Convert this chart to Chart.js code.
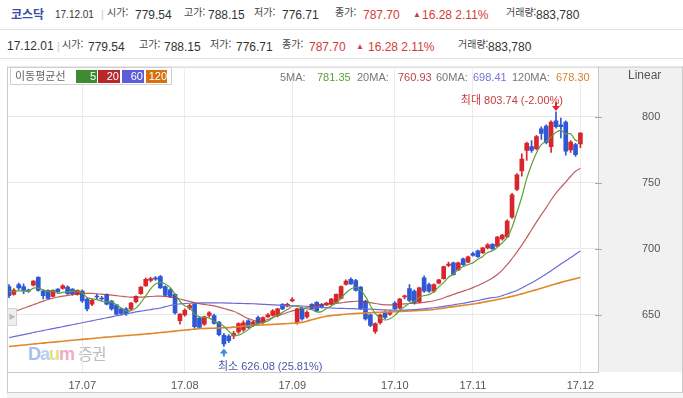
<!DOCTYPE html>
<html lang="ko">
<head>
<meta charset="UTF-8">
<title>코스닥 일봉 차트</title>
<script src="https://cdn.jsdelivr.net/npm/chart.js"></script>
<style>
  body { margin: 0; background: #fff; font-family: "Liberation Sans", "Noto Sans CJK KR", sans-serif; }
  #wrap { position: relative; width: 683px; height: 398px; overflow: hidden; }
  .a { position: absolute; white-space: nowrap; z-index: 2; line-height: 14px; }
  .lb { font-size: 10px; color: #444; font-family: "Noto Sans CJK KR", sans-serif; line-height: 12px; }
  .v { font-size: 12px; color: #333; }
  .up { color: #d13c3c; }
  .hl { position: absolute; left: 0; width: 683px; height: 1px; background: #e2e2e2; }
  .chip { position: absolute; top: 70px; height: 13px; line-height: 13px; font-size: 11px; color: #fff; text-align: right; z-index: 3; }
  .ma { font-size: 11px; color: #777; top: 70px; }
  canvas { position: absolute; left: 0; top: 60px; z-index: 1; }
</style>
</head>
<body>
<div id="wrap">
  <!-- header row 1 -->
  <span class="a" style="left:11px;top:6px;font-size:12px;font-weight:bold;color:#3d4ca8;font-family:'Noto Sans CJK KR';line-height:16px">코스닥</span>
  <span class="a" style="left:55px;top:8px;font-size:10px;color:#333">17.12.01</span>
  <span class="a" style="left:101px;top:7px;font-size:11px;color:#ccc">|</span>
  <span class="a lb" style="left:107px;top:6px">시가:</span><span class="a v" style="left:135px;top:8px">779.54</span>
  <span class="a lb" style="left:184px;top:6px">고가:</span><span class="a v" style="left:208px;top:8px">788.15</span>
  <span class="a lb" style="left:254px;top:6px">저가:</span><span class="a v" style="left:282px;top:8px">776.71</span>
  <span class="a lb" style="left:335px;top:6px">종가:</span><span class="a v up" style="left:363px;top:8px">787.70</span>
  <span class="a up" style="left:413px;top:8px;font-size:8px">▲</span><span class="a v up" style="left:422px;top:8px">16.28 2.11%</span>
  <span class="a lb" style="left:506px;top:6px">거래량:</span><span class="a v" style="left:536px;top:8px">883,780</span>
  <div class="hl" style="top:29px"></div>
  <!-- header row 2 -->
  <span class="a v" style="left:7px;top:39px">17.12.01</span>
  <span class="a" style="left:57px;top:39px;font-size:11px;color:#ccc">|</span>
  <span class="a lb" style="left:62px;top:38px">시가:</span><span class="a v" style="left:88px;top:40px">779.54</span>
  <span class="a lb" style="left:139px;top:38px">고가:</span><span class="a v" style="left:164px;top:40px">788.15</span>
  <span class="a lb" style="left:210px;top:38px">저가:</span><span class="a v" style="left:236px;top:40px">776.71</span>
  <span class="a lb" style="left:282px;top:38px">종가:</span><span class="a v up" style="left:309px;top:40px">787.70</span>
  <span class="a up" style="left:356px;top:40px;font-size:8px">▲</span><span class="a v up" style="left:368px;top:40px">16.28 2.11%</span>
  <span class="a lb" style="left:458px;top:38px">거래량:</span><span class="a v" style="left:488px;top:40px">883,780</span>
  <div class="hl" style="top:58px"></div>

  <!-- watermark -->
  <div style="position:absolute;left:28px;top:341px;z-index:0;font-size:18px;font-weight:bold;letter-spacing:-1px;opacity:0.75">
    <span style="color:#86ace6">D</span><span style="color:#9cc2ea">a</span><span style="color:#dcd45c">u</span><span style="color:#ea92a8">m</span>
    <span style="color:#a8a8a8;font-weight:normal;font-size:16px;font-family:'Noto Sans CJK KR'">증권</span>
  </div>

  <!-- MA legend -->
  <div style="position:absolute;left:10px;top:67px;width:160px;height:16px;border:1px solid #cfcfcf;background:#fff;z-index:2"></div>
  <span class="a" style="left:15px;top:68px;font-size:11px;color:#666;font-family:'Noto Sans CJK KR';z-index:3">이동평균선</span>
  <div class="chip" style="left:76px;width:20px;background:#3c8b2f;padding-right:1px">5</div>
  <div class="chip" style="left:98px;width:21px;background:#b6292b;padding-right:1px">20</div>
  <div class="chip" style="left:122px;width:21px;background:#5d5dd8;padding-right:1px">60</div>
  <div class="chip" style="left:146px;width:21px;background:#d9700f;padding-right:0px">120</div>

  <span class="a ma" style="left:280px">5MA:</span><span class="a ma" style="left:317px;color:#5e9f34">781.35</span>
  <span class="a ma" style="left:357px">20MA:</span><span class="a ma" style="left:398px;color:#b84444">760.93</span>
  <span class="a ma" style="left:436px">60MA:</span><span class="a ma" style="left:473px;color:#7474d6">698.41</span>
  <span class="a ma" style="left:512px">120MA:</span><span class="a ma" style="left:556px;color:#d9862c">678.30</span>
  <span class="a" style="left:628px;top:68px;font-size:12px;color:#555">Linear</span>

  <!-- left handle -->
  <div style="position:absolute;left:7px;top:308px;width:8px;height:16px;background:#eee;border:1px solid #d2d2d2;z-index:2;font-size:7px;color:#bbb;line-height:16px;text-align:center">▶</div>

  <canvas id="chart" width="683" height="338"></canvas>
</div>

<script>
  // trading-day index of the first session of each month, and its label
  const monthTicks = [15, 36, 58, 79, 95, 117];
  const monthLabels = ['17.07', '17.08', '17.09', '17.10', '17.11', '17.12'];
  const yTicks = [650, 700, 750, 800];

  // daily candles, 2017-06-12 .. 2017-12-01
  const opens = [
    671.5,665.5,673,671.5,668.5,672.5,678.5,668,668.5,664,
    669.5,670,671,669.5,665.5,668,662,658,664,662.5,
    665.5,660.5,657.5,654.5,654.5,654.5,660,666,672,676,
    678,679,671.5,669,665.5,645.5,650,655,658,647.5,
    643,649.5,649.5,644.5,634.5,634,634,637,638.5,645.5,
    642,648,644,648.5,649.5,649.5,658,656.5,660.5,644,
    655,648.5,658,659.5,658,657.5,658,659.5,662.5,673,
    677,676,671,660.5,650,637.5,644,652,650.5,659,
    655,663.5,670,668,660,678,673,668,674,677.5,
    687.5,689.5,684,692.5,690,696.5,698.5,697,700.7,703.5,
    702,707.5,709,724,745,759,774.5,777.5,776,791,
    793,777.5,797,794,796,775,779,779.54
  ];
  const highs = [
    673,670,674,673.5,669.5,676,679,669,669,669,
    670,673,672,670,669,669,663,662,665.5,664,
    666,661,658,655,655.5,659.5,664.5,671.5,678,678.5,
    679,680,672,670,666,651,654.5,658,659,648.5,
    649,652.5,650.5,645,636,635,637.5,644,645.5,646.5,
    645,649,648.5,651,654,655,658.5,659,663,655,
    656,653,658.5,660,658.5,659.5,662.5,666,672,676.5,
    678,677,671.5,661,650.5,644,650.5,653,653,660,
    662.5,665,673,669,671,679.5,674,673.5,677,687,
    690,690,690,693,694.5,697.5,699,701,704,704,
    709.5,711,722,742,757,772,781,782,786,792.5,
    794,797,803.74,799,797,782,780,788.15
  ];
  const lows = [
    663,665,669,666,667,672,668,662,662,663.5,
    667,669.5,665.5,665,665,659.5,653,657,662,661,
    657.5,653.5,650,650,649.5,653.5,659,665.5,671.5,675,
    676,670,664,663,650.5,643,649,654,640,639.5,
    642,648.5,643,634,626.08,629,632,636,637.5,640,
    641,643,643.5,648,649,648.5,654,656,660,643,
    646,647.5,654,652.5,655,657,657.5,659,662,672.5,
    673,668,654,646,641,636,643,647,649.5,654,
    654.5,662,660,658,659,667,667,667,673.5,677,
    686.5,680,683.5,687.5,689.5,694.5,693.5,696.5,700,699.5,
    701.5,706.5,708.5,723,744,755,767,773,775,783,
    779.5,773,791.5,784,771,773,770,776.71
  ];
  const closes = [
    664.5,668.7,670.5,668.5,668,675.5,668.5,664.5,662.5,668.5,
    667.5,672,666,666,668.5,660.5,654.5,661,663.5,662,
    658,654.5,650.5,651,650.8,659,664,671,677,677.5,
    677,670.5,665,664,651.5,650.5,653.5,657,641,640.5,
    648.5,651.5,643.5,635,628,630.5,636,643.3,644,640.5,
    644.5,643.5,648,650,653,654.5,654.5,658,661.5,654.5,
    647,652,654.5,653,655.5,659,662,665.5,671.5,675.5,
    673.5,668.5,654.5,647,642,643.3,650,648,652,654.5,
    662,664.5,661,659,670.5,668,668,673,676.5,686.5,
    688.5,680.5,689.5,688,694,695,694,700.7,703,700,
    709,710.5,721,741,756,768,780,774.5,785,787.5,
    780.5,796,792.5,792.5,774,781,771.42,787.7
  ];

  // moving averages as drawn
  const ma5 = [
    667.5,667.8,668.2,668.0,668.0,670.2,670.2,669.0,667.8,667.9,
    666.3,667.0,667.3,668.0,668.0,666.6,663.1,662.1,661.6,660.3,
    659.8,659.8,657.7,655.2,653.0,653.2,655.1,659.2,664.4,669.7,
    673.3,674.6,673.4,670.8,665.6,660.3,656.9,655.3,650.7,648.5,
    648.1,647.7,645.0,643.8,641.3,637.7,634.6,634.6,636.4,638.9,
    641.7,643.2,644.1,645.3,647.8,649.8,652.0,654.0,656.3,656.6,
    655.1,654.6,653.9,652.2,652.4,654.8,656.8,659.0,662.7,666.7,
    669.6,670.9,668.7,663.8,657.1,651.1,647.4,646.1,647.1,649.6,
    653.3,656.2,658.8,660.2,663.4,664.6,665.3,667.7,671.2,674.4,
    678.5,681.0,684.3,686.6,688.1,689.4,692.1,694.3,697.3,698.5,
    701.3,704.6,708.7,716.3,727.5,739.3,753.2,763.9,772.7,779.0,
    781.5,784.7,788.3,789.8,787.1,787.2,782.3,781.35
  ];
  const ma20 = [
    651.5,652.6,653.7,655.0,656.3,657.7,659.0,660.4,661.6,662.6,
    663.5,664.2,664.8,665.3,665.8,666.2,666.3,666.2,666.0,665.7,
    665.3,664.9,664.5,664.1,663.7,663.5,663.4,663.4,663.6,663.9,
    664.1,664.2,664.0,663.5,662.8,662.0,661.1,660.2,659.2,658.5,
    657.9,657.4,656.8,655.9,654.8,653.8,652.7,651.0,649.0,647.2,
    645.8,645.0,645.4,646.5,647.9,649.3,650.6,651.8,653.0,653.8,
    654.6,655.6,656.6,657.4,657.9,658.2,658.4,658.7,659.1,659.6,
    660.0,660.3,660.2,659.8,659.2,658.6,658.0,657.6,657.5,657.6,
    657.9,658.3,658.6,658.8,659.1,659.5,660.0,660.7,661.6,662.8,
    664.2,665.4,666.8,668.0,669.2,670.6,672.2,674.0,675.8,677.9,
    680.6,683.9,688.0,692.7,697.6,702.8,708.5,714.5,720.3,726.0,
    731.3,737.0,742.2,746.6,750.6,755.0,758.8,760.93
  ];
  const ma60 = [
    632.8,633.5,634.3,635.0,635.8,636.6,637.4,638.1,638.9,639.6,
    640.3,641.0,641.8,642.5,643.3,644.0,644.8,645.5,646.3,647.0,
    647.8,648.5,649.3,650.0,650.8,651.5,652.2,652.8,653.4,654.0,
    654.6,655.2,656.1,657.1,657.9,658.3,658.6,658.8,658.9,659.0,
    659.1,659.1,659.1,659.0,659.0,658.9,658.8,658.7,658.6,658.5,
    658.4,658.2,658.0,657.8,657.6,657.4,657.2,657.0,656.9,656.8,
    656.7,656.5,656.2,655.9,655.6,655.4,655.2,655.0,654.9,654.8,
    654.7,654.6,654.5,654.5,654.3,654.1,653.9,653.7,653.6,653.5,
    653.5,653.6,653.8,654.0,654.3,654.6,655.0,655.4,655.9,656.4,
    657.0,657.6,658.2,658.8,659.5,660.2,660.9,661.7,662.5,663.0,
    663.5,664.6,665.8,667.1,668.5,670.3,672.3,674.3,676.4,678.6,
    681.0,683.5,686.0,688.5,691.0,693.4,695.9,698.41
  ];
  const ma120 = [
    626.0,626.4,626.8,627.1,627.5,627.9,628.3,628.6,629.0,629.3,
    629.7,630.0,630.4,630.7,631.1,631.4,631.8,632.1,632.5,632.8,
    633.1,633.4,633.7,634.0,634.3,634.6,634.9,635.2,635.5,635.8,
    636.2,636.6,636.9,637.3,637.7,638.1,638.5,638.8,639.2,639.6,
    639.7,639.8,639.9,640.0,640.2,640.3,640.7,641.0,641.4,641.8,
    642.0,642.2,642.4,642.6,642.8,643.0,643.2,643.4,643.6,643.8,
    644.3,645.2,646.3,647.3,648.2,648.9,649.4,649.8,650.2,650.5,
    650.8,651.0,651.2,651.4,651.6,651.8,652.0,652.1,652.2,652.3,
    652.5,652.7,652.9,653.1,653.3,653.5,653.7,654.1,654.6,655.1,
    655.7,656.2,656.7,657.2,657.7,658.2,658.8,659.5,660.2,660.9,
    661.6,662.4,663.2,664.0,664.9,665.9,666.9,668.0,669.1,670.2,
    671.3,672.4,673.5,674.6,675.6,676.5,677.4,678.3
  ];

  const UP = '#d8262c', DOWN = '#2f58d6';
  const candleColors = closes.map((c, i) => c >= opens[i] ? UP : DOWN);
  const pts = arr => arr.map((v, i) => ({ x: i, y: v }));
  const FONT = '"Liberation Sans", "Noto Sans CJK KR", sans-serif';

  // grey axis panel + outer frame + short y tick marks
  const frame = {
    id: 'frame',
    beforeDraw(chart) {
      const { ctx, chartArea: a, width, height } = chart;
      ctx.save();
      ctx.fillStyle = '#f1f1f1';
      ctx.fillRect(a.right, a.top, width - a.right, a.bottom - a.top);
      ctx.fillStyle = '#f4f4f4';
      ctx.fillRect(7, height - 5, width - 7, 5);
      ctx.strokeStyle = '#cbcbcb';
      ctx.lineWidth = 1;
      ctx.beginPath();
      ctx.moveTo(7, a.top + 0.5); ctx.lineTo(width, a.top + 0.5);
      ctx.moveTo(7.5, a.top); ctx.lineTo(7.5, height - 5);
      ctx.moveTo(width - 0.5, a.top); ctx.lineTo(width - 0.5, height - 5);
      ctx.moveTo(7, height - 5.5); ctx.lineTo(width, height - 5.5);
      ctx.stroke();
      ctx.restore();
    },
    afterDraw(chart) {
      const { ctx, chartArea: a, scales: { y } } = chart;
      ctx.save();
      ctx.strokeStyle = '#a8a8a8';
      ctx.lineWidth = 1;
      ctx.beginPath();
      yTicks.forEach(v => {
        const py = Math.round(y.getPixelForValue(v)) + 0.5;
        ctx.moveTo(a.right - 3, py); ctx.lineTo(a.right + 4, py);
      });
      ctx.stroke();
      ctx.restore();
    }
  };

  // max / min markers
  const extremes = {
    id: 'extremes',
    afterDatasetsDraw(chart) {
      const { ctx, scales: { x, y } } = chart;
      const last = closes[closes.length - 1];
      const hi = highs.indexOf(Math.max(...highs));
      const lo = lows.indexOf(Math.min(...lows));
      ctx.save();
      ctx.font = '11px ' + FONT;

      let px = x.getPixelForValue(hi), py = y.getPixelForValue(highs[hi]);
      ctx.fillStyle = '#e2262a';
      ctx.beginPath();
      ctx.moveTo(px, py - 1); ctx.lineTo(px - 4, py - 6); ctx.lineTo(px + 4, py - 6);
      ctx.fill();
      ctx.fillRect(px - 1, py - 10, 2, 5);
      ctx.fillStyle = '#c83c3c';
      ctx.textAlign = 'right';
      ctx.fillText('최대 ' + highs[hi].toFixed(2) + ' (' + ((last - highs[hi]) / highs[hi] * 100).toFixed(2) + '%)', px + 7, py - 8);

      px = x.getPixelForValue(lo); py = y.getPixelForValue(lows[lo]);
      ctx.fillStyle = '#3d8de0';
      ctx.beginPath();
      ctx.moveTo(px, py + 2); ctx.lineTo(px - 4, py + 7); ctx.lineTo(px + 4, py + 7);
      ctx.fill();
      ctx.fillRect(px - 1, py + 6, 2, 4);
      ctx.fillStyle = '#4a58a8';
      ctx.textAlign = 'left';
      ctx.fillText('최소 ' + lows[lo].toFixed(2) + ' (' + ((last - lows[lo]) / lows[lo] * 100).toFixed(2) + '%)', px - 6, py + 24);
      ctx.restore();
    }
  };

  const maLine = (data, color, w) => ({
    type: 'line', data: pts(data), borderColor: color, borderWidth: w,
    pointRadius: 0, tension: 0.3, fill: false, order: 0
  });

  new Chart(document.getElementById('chart'), {
    type: 'bar',
    data: {
      datasets: [
        maLine(ma5, '#5e9f34', 1.2),
        maLine(ma20, 'rgba(172,54,54,0.8)', 1.2),
        maLine(ma60, '#6a6ad8', 1.2),
        maLine(ma120, '#e0882a', 1.6),
        {
          data: opens.map((o, i) => ({ x: i, y: [o, closes[i]] })),
          backgroundColor: candleColors, barThickness: 4, minBarLength: 1,
          grouped: false, order: 1
        },
        {
          data: lows.map((l, i) => ({ x: i, y: [l, highs[i]] })),
          backgroundColor: candleColors, barThickness: 1,
          grouped: false, order: 2
        }
      ]
    },
    options: {
      responsive: false,
      animation: false,
      devicePixelRatio: 1,
      layout: { padding: { left: 8, top: 2, right: 0, bottom: 0 } },
      plugins: { legend: { display: false }, tooltip: { enabled: false } },
      scales: {
        x: {
          type: 'linear', min: -0.2, max: 120.6, offset: false,
          afterBuildTicks: s => { s.ticks = monthTicks.map(v => ({ value: v })); },
          afterFit: s => { s.height = 26; },
          grid: { color: '#ececec', drawTicks: false, offset: false },
          border: { color: '#c9c9c9' },
          ticks: {
            padding: 7, color: '#555', autoSkip: false, maxRotation: 0,
            font: { size: 11, family: FONT },
            callback: v => monthLabels[monthTicks.indexOf(v)]
          }
        },
        y: {
          position: 'right', min: 606.7, max: 838.1,
          afterBuildTicks: s => { s.ticks = yTicks.map(v => ({ value: v })); },
          afterFit: s => { s.width = 85; },
          // long transparent tick length pushes the labels into the panel;
          // the visible short tick marks are drawn by the frame plugin
          grid: { color: '#e9e9e9', tickLength: 44, tickColor: 'rgba(0,0,0,0)' },
          border: { color: '#c9c9c9' },
          ticks: { crossAlign: 'near', padding: 0, color: '#555', font: { size: 11, family: FONT } }
        }
      }
    },
    plugins: [frame, extremes]
  });
</script>
</body>
</html>
